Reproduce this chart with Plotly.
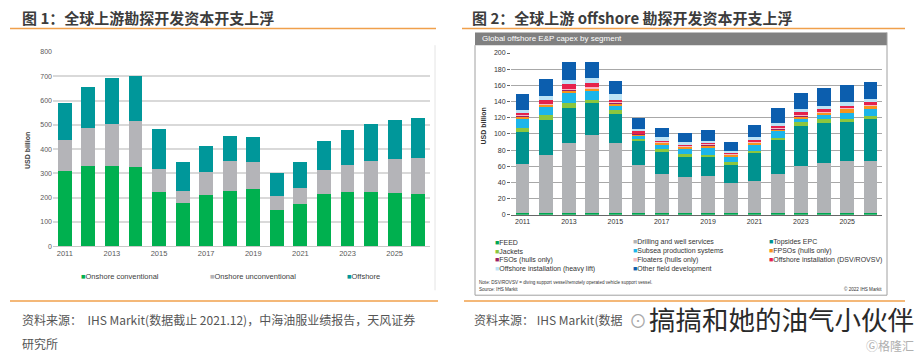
import plotly.graph_objects as go

# ---------------- data ----------------
years = [str(y) for y in range(2011, 2027)]
tick_years = [str(y) for y in range(2011, 2027, 2)]

# Figure 1 (USD billion)
onshore_conv = [308, 331, 331, 328, 223, 176, 212, 228, 235, 149, 173, 216, 223, 224, 221, 217]
onshore_unconv = [128, 155, 172, 186, 95, 50, 93, 123, 110, 58, 67, 97, 112, 127, 137, 145]
offshore = [152, 171, 189, 189, 166, 122, 109, 102, 104, 93, 105, 121, 145, 153, 160, 168]

# Figure 2 (USD billion)
feed = [2, 2, 2, 2, 2, 2, 2, 2, 2, 2, 2, 2, 2, 2, 2, 2]
drilling = [61, 72, 87, 97, 87, 60, 48, 45, 46, 37, 40, 48, 58, 62, 64, 64]
topsides = [39, 43, 43, 39, 36, 29, 28, 25, 24, 23, 34, 42, 50, 50, 49, 52]
jackets = [5, 6, 6, 4, 5, 3, 3, 3, 2, 3, 3, 3, 5, 4, 4, 4]
subsea = [11, 10, 13, 11, 5, 3, 5, 7, 9, 7, 7, 8, 4, 5, 7, 9]
fpsos = [4, 3, 3, 3, 3, 2.5, 3, 2, 3, 2, 3, 3, 3, 3, 5, 3.5]
fsos = [0.5] * 16
floaters = [1, 1, 1, 1, 1, 1, 1, 1, 1, 1, 1, 1, 1, 1, 1, 1]
inst_dsv = [2.5, 4.5, 6, 5, 2.5, 2, 1, 1, 1.5, 1, 1.5, 2.5, 3.5, 3.5, 2.5, 3]
inst_heavy = [4, 5, 5, 7, 7, 3.5, 4.5, 3, 2.5, 2, 4, 3.5, 4, 4, 4, 4]
other_dev = [19, 21, 22, 19, 17, 13, 11, 12, 13, 12, 14.5, 19, 20, 22, 21, 21]

left_series = [
    ("Onshore conventional", onshore_conv, "#00b04f"),
    ("Onshore unconventional", onshore_unconv, "#b4b4b8"),
    ("Offshore", offshore, "#00979a"),
]
right_series = [
    ("FEED", feed, "#00a651"),
    ("Drilling and well services", drilling, "#b1b3b6"),
    ("Topsides EPC", topsides, "#00928f"),
    ("Jackets", jackets, "#8cc63e"),
    ("Subsea production systems", subsea, "#1cb5ea"),
    ("FPSOs (hulls only)", fpsos, "#f7941e"),
    ("FSOs (hulls only)", fsos, "#9b2063"),
    ("Floaters (hulls only)", floaters, "#f6b9c4"),
    ("Offshore installation (DSV/ROVSV)", inst_dsv, "#e6224b"),
    ("Offshore installation (heavy lift)", inst_heavy, "#bde4f6"),
    ("Other field development", other_dev, "#0c5eae"),
]

W, H = 922, 358
def px(x):
    return x / W
def py(y):
    return 1 - y / H

LAT = "Liberation Sans, Arial, sans-serif"
CJK = "Noto Sans CJK SC, Noto Sans, sans-serif"

fig = go.Figure()
for name, vals, col in left_series:
    fig.add_trace(go.Bar(x=years, y=vals, name=name, marker=dict(color=col, line=dict(width=0)),
                         xaxis="x", yaxis="y", showlegend=False))
for name, vals, col in right_series:
    fig.add_trace(go.Bar(x=years, y=vals, name=name, marker=dict(color=col, line=dict(width=0)),
                         xaxis="x2", yaxis="y2", showlegend=False))

shapes = []
annotations = []

def line(x0, y0, x1, y1, color, width=1):
    shapes.append(dict(type="line", xref="paper", yref="paper", x0=px(x0), y0=py(y0), x1=px(x1), y1=py(y1),
                       line=dict(color=color, width=width), layer="above"))

def text(x, y, t, size, color="#333", family=LAT, xanchor="left", yanchor="middle", angle=0):
    annotations.append(dict(xref="paper", yref="paper", x=px(x), y=py(y), text=t, showarrow=False,
                            xanchor=xanchor, yanchor=yanchor, textangle=angle,
                            font=dict(size=size, color=color, family=family)))

# titles + orange rules
text(20, 14, "<b>图 1：全球上游勘探开发资本开支上浮</b>", 15, "#3c3c3c", CJK)
text(470, 14, "<b>图 2：全球上游 offshore 勘探开发资本开支上浮</b>", 15, "#3c3c3c", CJK)
line(10, 25, 436, 25, "#f0a04b", 1.5)
line(462, 25, 905, 25, "#f0a04b", 1.5)
line(10, 303, 438, 303, "#f0a04b", 1.5)
line(464, 303, 905, 303, "#f0a04b", 1.5)

# left chart decorations
line(435, 42, 435, 292, "#e4e4e4", 1)
text(27, 150, "<b>USD billion</b>", 7, "#404040", LAT, "center", "middle", -90)
left_leg_x = [79, 208, 345]
for (name, vals, col), lx in zip(left_series, left_leg_x):
    text(lx, 278, f'<span style="color:{col}">■</span>{name}', 7.5, "#404040")

# right chart frame + header
shapes.append(dict(type="rect", xref="paper", yref="paper", x0=px(475), x1=px(887), y0=py(42), y1=py(29),
                   fillcolor="#808080", line=dict(width=0), layer="below"))
line(475, 42, 475, 297, "#a0a0a0", 1)
line(887, 29, 887, 297, "#a0a0a0", 1)
line(475, 297, 887, 297, "#a0a0a0", 1)
text(480, 35.5, "Global offshore E&P capex by segment", 8, "white")
text(484, 125, "<b>USD billion</b>", 7, "#333", LAT, "center", "middle", -90)

cols_x = [493, 631, 767]
rows_y = [243, 252, 261, 270]
for i, (name, vals, col) in enumerate(right_series):
    r, c = divmod(i, 3)
    text(cols_x[c], rows_y[r], f'<span style="color:{col}">■</span>{name}', 7, "#333")
text(477, 284, "Note: DSV/ROVSV = diving support vessel/remotely operated vehicle support vessel.", 4.6, "#333")
text(477, 291, "Source: IHS Markit", 4.6, "#333")
text(884, 291, "© 2022 IHS Markit", 4.6, "#333", LAT, "right")

# sources
text(20, 322, "资料来源：  IHS Markit(数据截止 2021.12)，中海油服业绩报告，天风证券", 12, "#555", CJK)
text(20, 346, "研究所", 12, "#555", CJK)
text(472, 322, "资料来源： IHS Markit(数据", 12, "#555", CJK)
text(627, 322, "⊙", 18, "#aaa", CJK)
text(647, 321, "搞搞和她的油气小伙伴", 26.5, "#2a2a2a", CJK)
text(916, 348, "Ⓖ格隆汇", 12, "#b0b0b0", CJK, "right")

fig.update_layout(
    width=W, height=H, margin=dict(l=0, r=0, t=0, b=0),
    paper_bgcolor="white", plot_bgcolor="white",
    barmode="stack", bargap=0.41,
    shapes=shapes, annotations=annotations,
    xaxis=dict(domain=[px(53), px(430)], type="category", tickmode="array", tickvals=tick_years,
               tickfont=dict(size=7.5, color="#595959", family=LAT), showgrid=False,
               showline=True, linecolor="#c8c8c8", linewidth=1, ticks="", fixedrange=True),
    yaxis=dict(domain=[py(247), py(49)], range=[0, 800], tickvals=list(range(0, 801, 100)),
               tickfont=dict(size=7, color="#595959", family=LAT), gridcolor="#d9d9d9", gridwidth=2,
               zeroline=False, showline=False, ticks="", anchor="x"),
    xaxis2=dict(domain=[px(511), px(882)], type="category", tickmode="array", tickvals=tick_years,
                tickfont=dict(size=7, color="#333", family=LAT), showgrid=False, anchor="y2",
                showline=True, linecolor="#666", linewidth=1, ticks=""),
    yaxis2=dict(domain=[py(215), py(50)], range=[0, 200], tickvals=list(range(0, 201, 20)),
                tickfont=dict(size=7, color="#333", family=LAT), gridcolor="#a8a8a8", gridwidth=1,
                zeroline=False, showline=False, ticks="outside", ticklen=3, tickcolor="#666", anchor="x2"),
)

fig.write_html("out.html", config={"displayModeBar": False},
               post_script="document.body.style.margin='0';document.body.style.padding='0';")
